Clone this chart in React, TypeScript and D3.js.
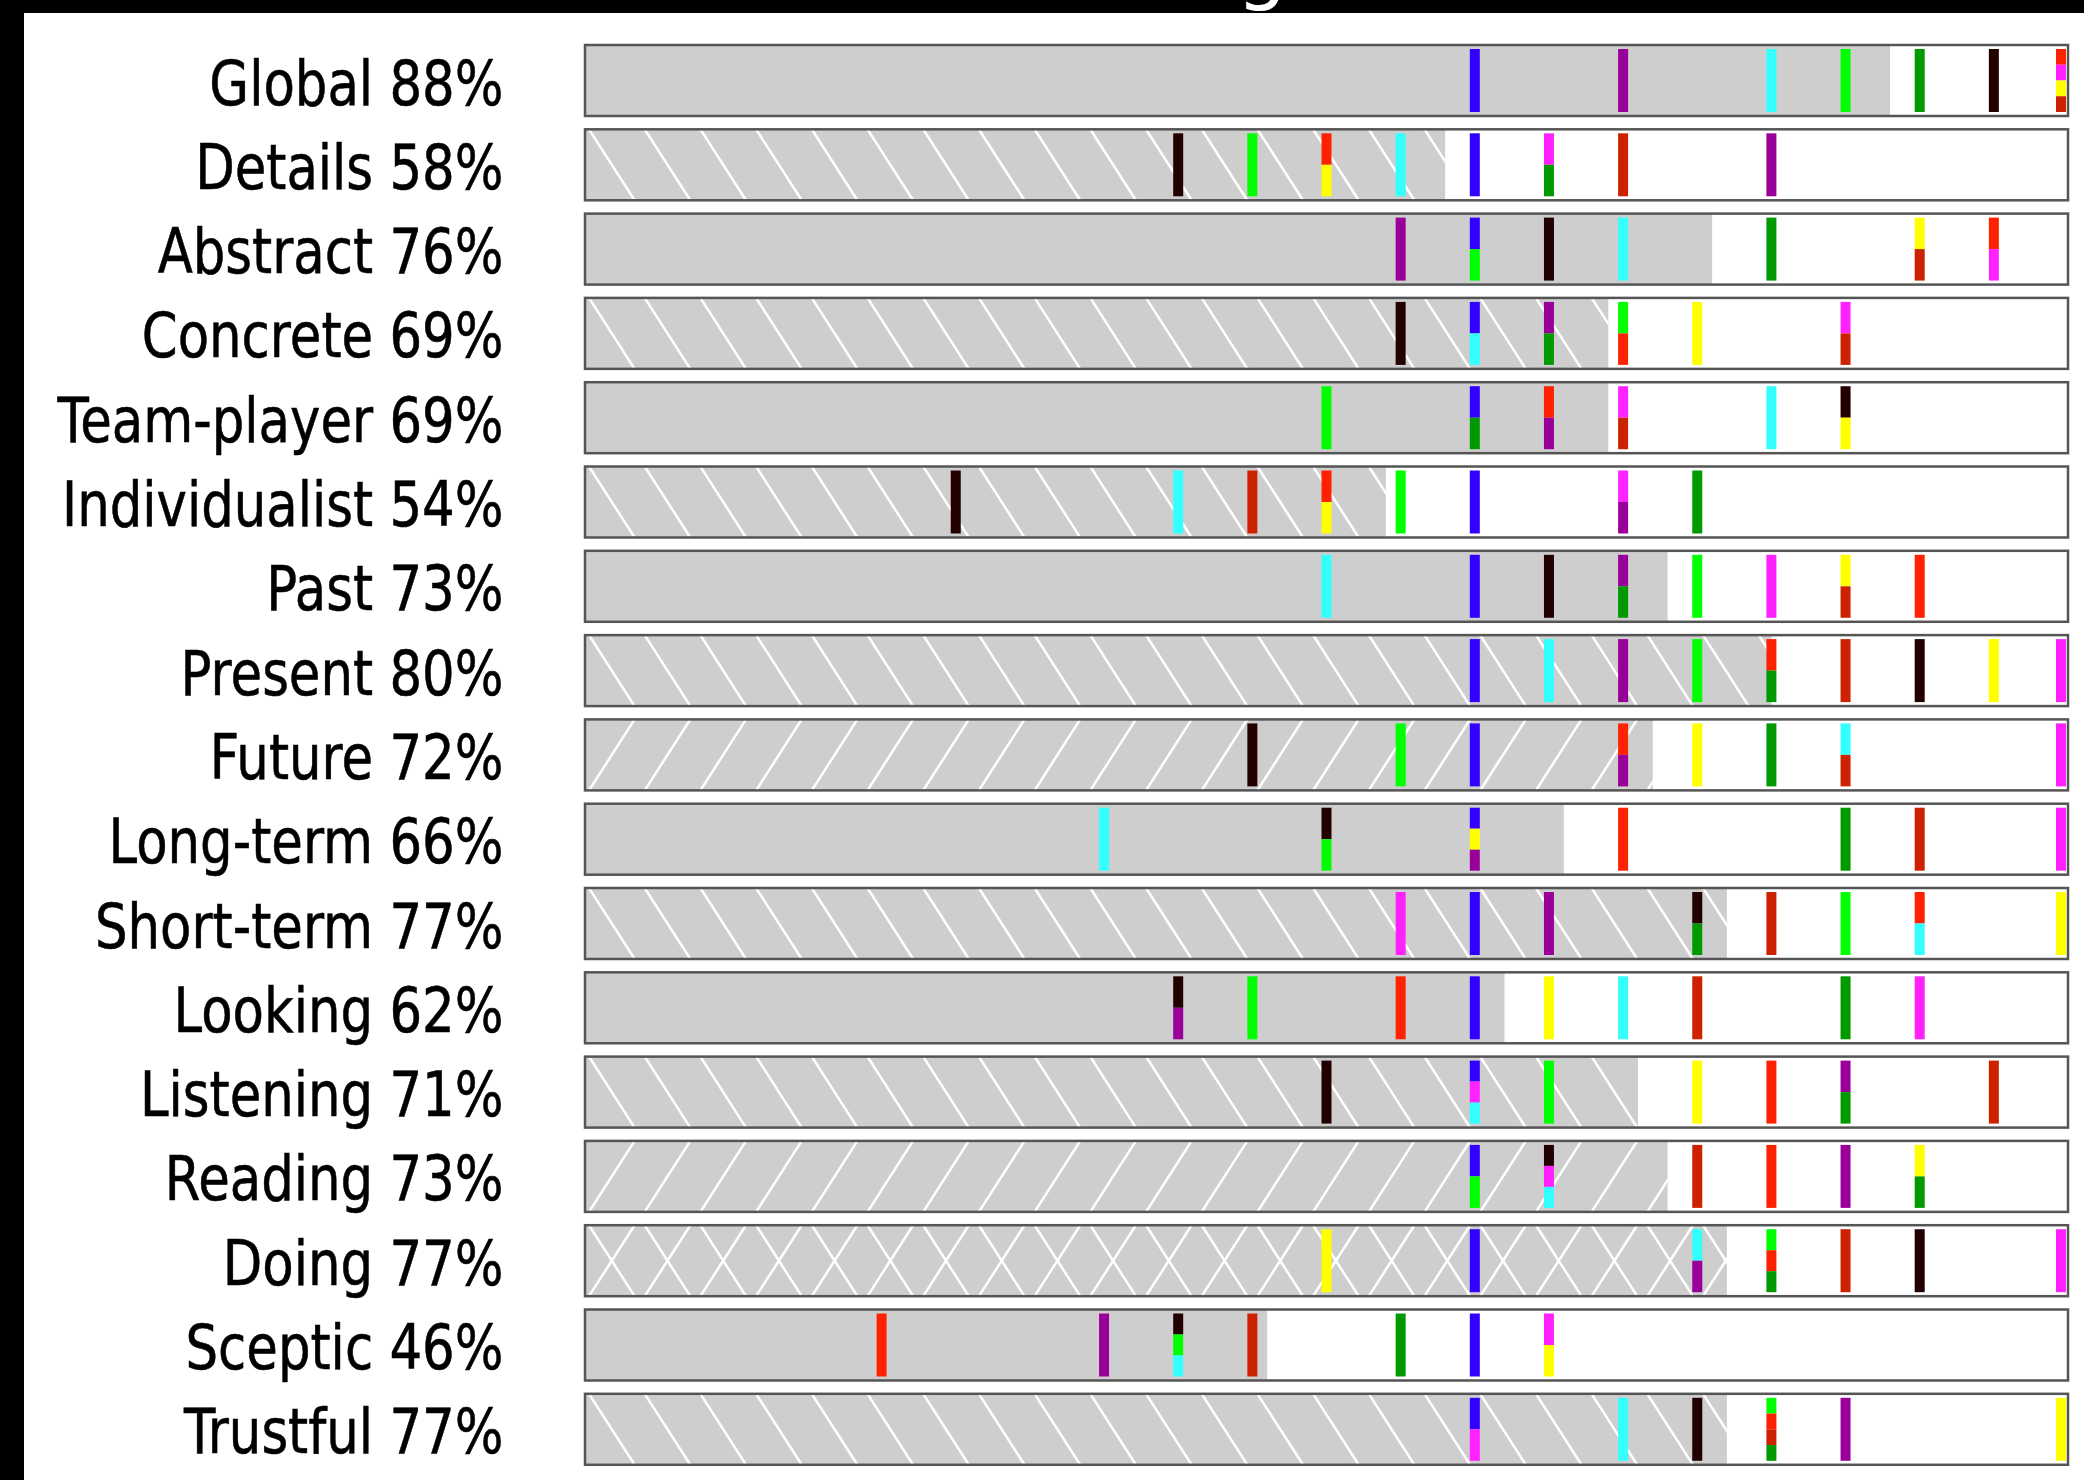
import React from 'react';
import * as d3 from 'd3';

const categories = ['Global', 'Details', 'Abstract', 'Concrete', 'Team-player', 'Individualist', 'Past', 'Present', 'Future', 'Long-term', 'Short-term', 'Looking', 'Listening', 'Reading', 'Doing', 'Sceptic', 'Trustful'];
const shares = [88, 58, 76, 69, 69, 54, 73, 80, 72, 66, 77, 62, 71, 73, 77, 46, 77];
const hatches = ['none', 'back', 'none', 'back', 'none', 'back', 'none', 'back', 'fwd', 'none', 'back', 'none', 'back', 'fwd', 'cross', 'none', 'back'];

const seriesNames = ['blue', 'black', 'green', 'red', 'magenta', 'yellow', 'cyan', 'purple', 'darkred', 'darkgreen'];
const seriesColors = ['#3300ff', '#220000', '#00ff00', '#ff2200', '#ff22ff', '#ffff00', '#33ffff', '#990099', '#cc2200', '#009900'];

const blueValues = [60, 60, 60, 60, 60, 60, 60, 60, 60, 60, 60, 60, 60, 60, 60, 60, 60];
const blackValues = [95, 40, 65, 55, 85, 25, 65, 90, 45, 50, 75, 40, 50, 65, 90, 40, 75];
const greenValues = [85, 45, 60, 70, 50, 55, 75, 75, 55, 50, 85, 45, 65, 60, 80, 40, 80];
const redValues = [100, 50, 95, 70, 65, 50, 90, 80, 70, 70, 90, 55, 80, 80, 80, 20, 80];
const magentaValues = [100, 65, 95, 85, 70, 70, 80, 100, 100, 100, 55, 90, 60, 65, 100, 65, 60];
const yellowValues = [100, 50, 90, 75, 85, 50, 85, 95, 75, 60, 100, 65, 75, 90, 50, 65, 100];
const cyanValues = [80, 55, 70, 60, 80, 40, 50, 65, 85, 35, 90, 70, 60, 65, 75, 40, 70];
const purpleValues = [70, 80, 55, 65, 65, 70, 70, 70, 70, 60, 65, 40, 85, 85, 75, 35, 85];
const darkredValues = [100, 70, 90, 85, 70, 45, 85, 85, 85, 90, 80, 75, 95, 75, 85, 45, 80];
const darkgreenValues = [90, 65, 80, 65, 60, 75, 70, 80, 80, 85, 75, 85, 85, 90, 80, 55, 80];

const seriesValues = [blueValues, blackValues, greenValues, redValues, magentaValues, yellowValues, cyanValues, purpleValues, darkredValues, darkgreenValues];

const W = 2084;
const H = 1480;

export default function App() {
  const x = d3.scaleLinear().domain([0, 100]).range([585, 2068]);
  const y = d3.scaleBand<string>().domain(categories).range([38.35, 1471.45]).paddingInner(0.158).paddingOuter(0.079);
  const bw = y.bandwidth();
  const markerW = 10;
  const inset = 4;
  const hatchStep = 55.7;
  const hatchDx = 45.6;

  const rows = categories.map((cat, i) => {
    const top = y(cat) as number;
    const groups = d3.group(seriesNames.map((name, s) => ({ name, s, v: seriesValues[s][i] })), (d) => d.v);
    const marks: { key: string; x: number; y: number; h: number; color: string }[] = [];
    groups.forEach((items, v) => {
      const sorted = items.slice().sort((a, b) => a.s - b.s);
      const segH = (bw - 2 * inset) / sorted.length;
      const cx = x(v);
      const mx = Math.max(x(0) + 2, Math.min(cx - markerW / 2, x(100) - markerW - 2));
      sorted.forEach((it, k) => {
        marks.push({ key: it.name, x: mx, y: top + inset + k * segH, h: segH, color: seriesColors[it.s] });
      });
    });
    const lines: { x1: number; y1: number; x2: number; y2: number }[] = [];
    const hatch = hatches[i];
    if (hatch !== 'none') {
      d3.range(0, 30).forEach((k) => {
        const x0 = x(0) + 4 + k * hatchStep;
        if (hatch === 'back' || hatch === 'cross') lines.push({ x1: x0, y1: top, x2: x0 + hatchDx, y2: top + bw });
        if (hatch === 'fwd' || hatch === 'cross') lines.push({ x1: x0, y1: top + bw, x2: x0 + hatchDx, y2: top });
      });
    }
    return { cat, i, top, marks, lines };
  });

  return (
    <svg width={W} height={H} style={{ position: 'absolute', left: 0, top: 0, display: 'block', background: '#fff' }}>
      <defs>
        {rows.map((r) => (
          <clipPath id={`clip${r.i}`} key={r.cat}>
            <rect x={x(0)} y={r.top} width={x(shares[r.i]) - x(0)} height={bw} />
          </clipPath>
        ))}
      </defs>
      <rect x={0} y={0} width={W} height={H} fill="#fff" />
      <rect x={0} y={0} width={W} height={13} fill="#000" />
      <rect x={0} y={0} width={24} height={H} fill="#000" />
      <text x={1262} y={-6} fill="#fff" fontFamily="DejaVu Sans" fontSize={80} textAnchor="middle">g</text>
      {rows.map((r) => (
        <g key={r.cat}>
          <rect x={x(0)} y={r.top} width={x(100) - x(0)} height={bw} fill="#fff" />
          <rect x={x(0)} y={r.top} width={x(shares[r.i]) - x(0)} height={bw} fill="#cecece" />
          <g clipPath={`url(#clip${r.i})`}>
            {r.lines.map((l, k) => (
              <line key={k} x1={l.x1} y1={l.y1} x2={l.x2} y2={l.y2} stroke="#fff" strokeWidth={2.5} />
            ))}
          </g>
          {r.marks.map((m) => (
            <rect key={m.key} x={m.x} y={m.y} width={markerW} height={m.h} fill={m.color} />
          ))}
          <rect x={x(0)} y={r.top} width={x(100) - x(0)} height={bw} fill="none" stroke="#555" strokeWidth={2.5} />
          <g transform={`translate(503.5, ${r.top + bw / 2 + 24}) scale(0.828, 1)`}>
            <text x={0} y={0} textAnchor="end" fontFamily="DejaVu Sans" fontSize={62} fill="#000" stroke="#000" strokeWidth={0.6}>
              {`${r.cat} ${shares[r.i]}%`}
            </text>
          </g>
        </g>
      ))}
    </svg>
  );
}
